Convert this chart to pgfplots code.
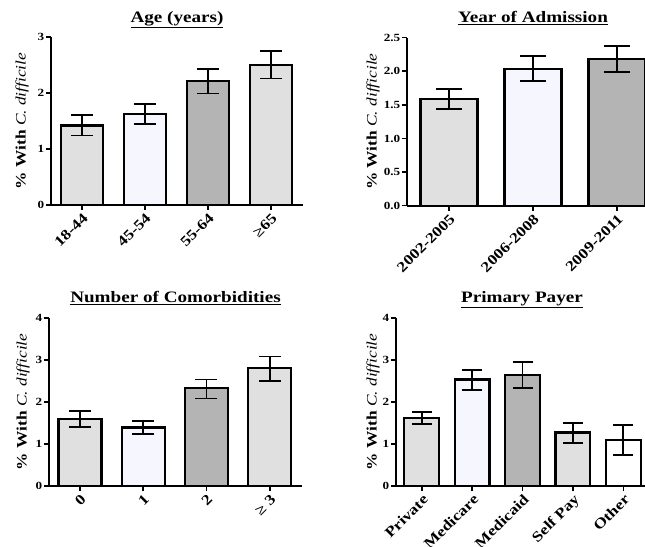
\documentclass[border=0pt]{standalone}
\usepackage{fontspec}
\setmainfont{Liberation Serif}[FakeStretch=1.2]
\usepackage{pgfplots}
\pgfplotsset{compat=1.18}
\definecolor{cA}{RGB}{224,224,224}
\definecolor{cB}{RGB}{246,246,255}
\definecolor{cC}{RGB}{180,180,180}
\pgfplotsset{
 panel/.style={
  scale only axis, axis lines=left, axis line style={-, line width=2bp, black},
  tick align=outside, major tick length=5bp, tick style={line width=1.6bp, black},
  ymin=0, ybar, bar shift=0pt, clip=false,
  xtick=data,
  x tick label style={rotate=45, anchor=north east, font=\fontsize{14.5}{14.5}\selectfont\bfseries, inner sep=1.5bp},
  y tick label style={font=\fontsize{11}{11}\selectfont\bfseries, inner sep=1.5bp},
  /pgf/number format/assume math mode=true,
  title style={font=\fontsize{16}{16}\selectfont\bfseries, at={(axis description cs:0.5,1)}, anchor=base, yshift=9bp},
  ylabel={\textbf{\% With} \textit{C. difficile}},
 },
 ylab/.style={every axis y label/.style={at={([xshift=-#1]axis description cs:0,0.5)}, rotate=90, anchor=center, font=\fontsize{14.5}{14.5}\selectfont}},
 bb/.style 2 args={fill=#1, draw=black, line width=2.2bp,
   error bars/.cd, y dir=both, y explicit,
   error bar style={line width=1.8bp, black},
   error mark options={rotate=90, mark size=#2, line width=1.8bp, black}},
}
\begin{document}
\begin{tikzpicture}
\useasboundingbox (0,0) rectangle (645bp,547bp);
% Panel 1: Age
\begin{axis}[panel, ylab=29bp, at={(51bp,342bp)}, anchor=south west,
  width=252bp, height=168bp, xmin=-0.49, xmax=3.51, ymax=3, ytick={0,1,2,3},
  bar width=0.667, xtick={0,1,2,3}, xticklabels={18-44,45-54,55-64,≥65},
  title={\underline{Age (years)}}]
\addplot[bb={cA}{11bp}] coordinates {(0,1.42) += (0,0.18) -= (0,0.18)};
\addplot[bb={cB}{11bp}] coordinates {(1,1.63) += (0,0.17) -= (0,0.18)};
\addplot[bb={cC}{11bp}] coordinates {(2,2.22) += (0,0.21) -= (0,0.23)};
\addplot[bb={cA}{11bp}] coordinates {(3,2.50) += (0,0.25) -= (0,0.24)};
\end{axis}
% Panel 2: Year of Admission
\begin{axis}[panel, ylab=34bp, at={(407bp,341.3bp)}, anchor=south west,
  width=252bp, height=168bp, xmin=-0.5, xmax=2.5, ymax=2.5, ytick={0,0.5,1,1.5,2,2.5},
  yticklabel style={/pgf/number format/.cd, fixed, fixed zerofill, precision=1},
  bar width=0.68, xtick={0,1,2}, xticklabels={2002-2005,2006-2008,2009-2011},
  title={\underline{Year of Admission}}]
\addplot[bb={cA}{13bp}] coordinates {(0,1.59) += (0,0.15) -= (0,0.15)};
\addplot[bb={cB}{13bp}] coordinates {(1,2.04) += (0,0.19) -= (0,0.19)};
\addplot[bb={cC}{13bp}] coordinates {(2,2.18) += (0,0.20) -= (0,0.19)};
\end{axis}
% Panel 3: Number of Comorbidities
\begin{axis}[panel, ylab=26bp, at={(49bp,61bp)}, anchor=south west,
  width=253bp, height=168.3bp, xmin=-0.49, xmax=3.51, ymax=4, ytick={0,1,2,3,4},
  bar width=0.68, xtick={0,1,2,3}, xticklabels={0,1,2,≥ 3},
  title={\underline{Number of Comorbidities}}]
\addplot[bb={cA}{11bp}] coordinates {(0,1.59) += (0,0.20) -= (0,0.19)};
\addplot[bb={cB}{11bp}] coordinates {(1,1.39) += (0,0.15) -= (0,0.15)};
\addplot[bb={cC}{11bp}] coordinates {(2,2.32) += (0,0.21) -= (0,0.24)};
\addplot[bb={cA}{11bp}] coordinates {(3,2.80) += (0,0.28) -= (0,0.30)};
\end{axis}
% Panel 4: Primary Payer
\begin{axis}[panel, ylab=23bp, at={(396bp,61bp)}, anchor=south west,
  width=252bp, height=168.3bp, xmin=-0.51, xmax=4.49, ymax=4, ytick={0,1,2,3,4},
  bar width=0.69, xtick={0,1,2,3,4}, xticklabels={Private,Medicare,Medicaid,Self Pay,Other},
  title={\underline{Primary Payer}}]
\addplot[bb={cA}{10bp}] coordinates {(0,1.62) += (0,0.13) -= (0,0.14)};
\addplot[bb={cB}{10bp}] coordinates {(1,2.53) += (0,0.23) -= (0,0.25)};
\addplot[bb={cC}{10bp}] coordinates {(2,2.64) += (0,0.31) -= (0,0.31)};
\addplot[bb={cA}{10bp}] coordinates {(3,1.27) += (0,0.23) -= (0,0.25)};
\addplot[bb={white}{10bp}] coordinates {(4,1.09) += (0,0.36) -= (0,0.36)};
\end{axis}
\end{tikzpicture}
\end{document}
